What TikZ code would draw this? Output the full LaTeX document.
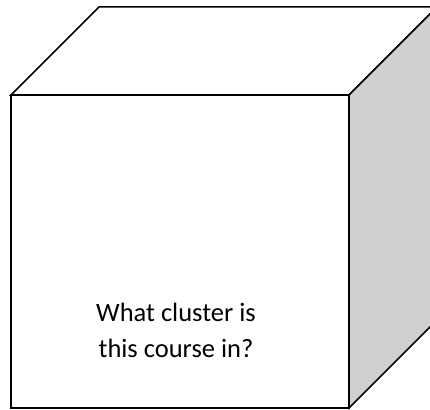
\documentclass[tikz,border=0pt]{standalone}
\usepackage{fontspec}
\setmainfont{Carlito}
\definecolor{sidegray}{RGB}{208,208,208}

\begin{document}
\begin{tikzpicture}[x=1pt,y=-1pt,face/.style={draw,line width=1.5pt,line join=miter,fill=white},side/.style={face,fill=sidegray},lbl/.style={align=center,inner sep=0pt,font=\fontsize{26.5}{36}\selectfont}]
\useasboundingbox (0,0) rectangle (430,409);
\clip (0,0) rectangle (430,409);
\coordinate (ftl) at (11,95);\coordinate (ftr) at (349,95);
\coordinate (fbl) at (11,408);\coordinate (fbr) at (349,408);
\coordinate (btl) at (99,7);\coordinate (btr) at (437,7);\coordinate (bbr) at (437,320);
\draw[face](ftl)--(btl)--(btr)--(ftr)--cycle;
\draw[side](ftr)--(btr)--(bbr)--(fbr)--cycle;
\draw[face](ftl)rectangle(fbr);
\node[lbl] (q) at (176,330) {What cluster is\\this course in?};
\end{tikzpicture}
\end{document}
